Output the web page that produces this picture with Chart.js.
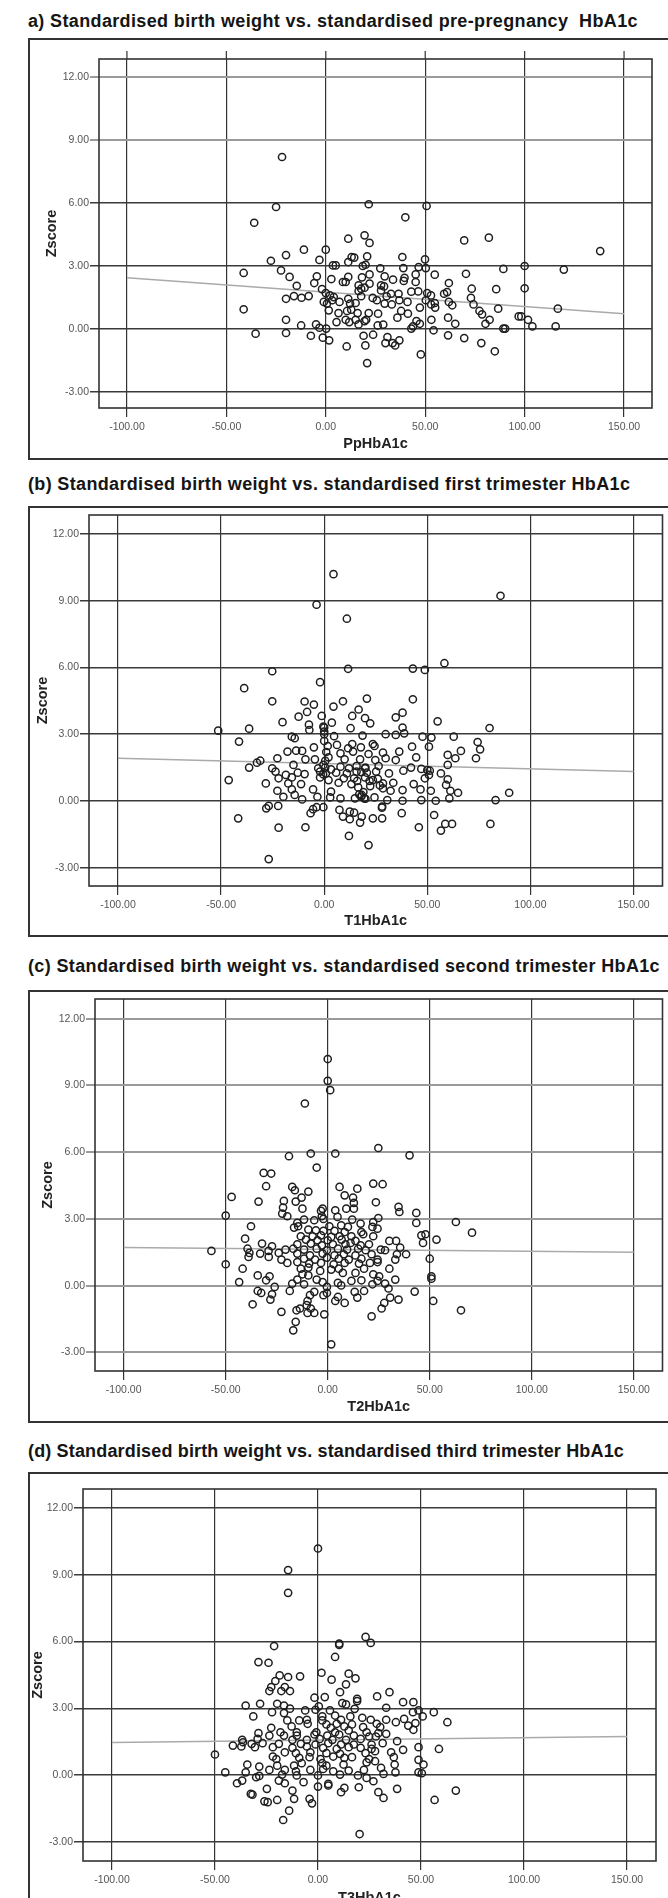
<!DOCTYPE html>
<html>
<head>
<meta charset="utf-8">
<script src="https://cdn.jsdelivr.net/npm/chart.js@4.4.1/dist/chart.umd.min.js"></script>
<style>
  html, body { margin: 0; padding: 0; background: #fff; }
  body { position: relative; width: 668px; height: 1898px; overflow: hidden; }
  .title { position: absolute; left: 28px; font: bold 18px "Liberation Sans", Arial, sans-serif; line-height: 18px; white-space: pre; color: #151515; }
  .box { position: absolute; left: 28px; width: 720px; border: 2px solid #333; box-sizing: border-box; }
  canvas { position: absolute; left: 0; }
</style>
</head>
<body>
<script>
// axis ticks shared by the four panels
const xTicks = [-100, -50, 0, 50, 100, 150];
const yTicks = [-3, 0, 3, 6, 9, 12];

const titles = [
  "a) Standardised birth weight vs. standardised pre-pregnancy  HbA1c",
  "(b) Standardised birth weight vs. standardised first trimester HbA1c",
  "(c) Standardised birth weight vs. standardised second trimester HbA1c",
  "(d) Standardised birth weight vs. standardised third trimester HbA1c"
];
const xLabels = ["PpHbA1c", "T1HbA1c", "T2HbA1c", "T3HbA1c"];
const yLabel = "Zscore";

// [HbA1c, Zscore] pairs
const ppHbA1c = [[-22,8.19],[-25,5.81],[21.6,5.94],[50.7,5.86],[-36,5.06],[40,5.32],[11.3,4.30],[19.5,4.46],[22,4.10],[69.6,4.22],[82,4.35],[138,3.71],[-11,3.78],[0,3.78],[-20,3.52],[-3.2,3.29],[-27.6,3.25],[3.6,3.03],[5,3.03],[13,3.43],[14.3,3.40],[20.8,3.46],[38.5,3.43],[49.9,3.32],[11.3,3.19],[18.6,3.0],[20,3.06],[27.4,2.89],[39,2.90],[46.7,2.95],[50.3,2.90],[89.3,2.86],[100,3.0],[119.7,2.83],[-41.3,2.67],[-22.5,2.79],[-18.2,2.48],[-4.5,2.51],[2.8,2.38],[11.3,2.48],[18.2,2.46],[22,2.60],[29.6,2.51],[33.8,2.35],[39.6,2.44],[45.2,2.60],[54.8,2.59],[70.5,2.63],[-5.8,2.19],[-14.6,2.06],[8.6,2.24],[10,2.24],[16.5,2.08],[22,2.16],[27.8,2.08],[29.3,2.03],[39.2,2.29],[45.2,2.24],[61.9,2.19],[73.4,1.92],[85.7,1.90],[100,1.94],[-8.6,1.57],[-16,1.57],[-20,1.44],[-12.2,1.49],[-1.9,1.90],[0,1.71],[2.1,1.60],[4,1.52],[16.5,1.81],[17.8,1.92],[19.5,1.97],[27.8,1.84],[30.6,1.56],[32.8,1.68],[36.6,1.68],[43,1.78],[46.5,1.79],[51,1.71],[52.9,1.60],[59.5,1.68],[61,1.76],[73,1.48],[11.3,1.44],[17.8,1.56],[23.6,1.48],[-1,1.29],[0.6,1.21],[3.2,1.37],[6.9,1.29],[12.2,1.21],[15,1.24],[25.7,1.37],[29.6,1.21],[33.2,1.17],[37,1.37],[41.1,1.29],[50.3,1.37],[53,1.17],[54.8,1.24],[61.9,1.29],[63.6,1.13],[74.3,1.17],[86.7,0.97],[116.7,0.97],[-41.3,0.94],[1.5,0.89],[6.4,0.76],[10.7,0.86],[12.8,0.92],[16,0.76],[21.6,0.76],[26.3,0.73],[37.9,0.86],[41.3,0.73],[47.3,1.02],[55,1.02],[77.3,0.86],[78.6,0.70],[97,0.60],[98.3,0.60],[101.7,0.44],[-20,0.44],[5.4,0.33],[10,0.44],[11.8,0.33],[15,0.44],[16.5,0.22],[19.5,0.38],[20.3,0.44],[26.1,0.17],[28.9,0.21],[36,0.54],[45.6,0.38],[47.3,0.25],[53.1,0.44],[61.5,0.54],[65.1,0.25],[80.3,0.25],[82.4,0.44],[103.9,0.13],[115.6,0.13],[-12.4,0.17],[-4.9,0.22],[0.2,0.02],[-3.2,0.06],[43,0.02],[43.9,0.13],[89.3,0.02],[90.2,0.02],[-35.3,-0.22],[-20,-0.19],[-7.5,-0.32],[-1.5,-0.41],[1.7,-0.54],[19,-0.32],[23.8,-0.27],[31,-0.38],[30,-0.67],[33.6,-0.67],[37,-0.54],[34.9,-0.78],[54.2,-0.06],[61.5,-0.30],[69.6,-0.43],[78.2,-0.67],[10.5,-0.83],[19.9,-0.78],[47.8,-1.21],[85,-1.06],[20.8,-1.62]];

const t1HbA1c = [[4.5,10.19],[-3.7,8.82],[11,8.19],[85.5,9.22],[58.3,6.19],[43,5.95],[48.8,5.89],[11.6,5.94],[-25.2,5.83],[-2,5.34],[-38.8,5.07],[-25.2,4.48],[-9.5,4.47],[-5,4.33],[20.7,4.60],[43,4.57],[9.1,4.48],[4.5,4.24],[16.7,4.11],[-8.3,4.0],[-12.4,3.79],[13.6,3.82],[19.8,3.72],[34.7,3.76],[38,3.97],[55,3.58],[-20.2,3.54],[-1.2,3.82],[-7.4,3.43],[3.7,3.52],[22.3,3.49],[-0.4,3.34],[-7.2,3.19],[12.8,3.27],[38,3.30],[-36.4,3.25],[-51.4,3.16],[0,3.12],[80.2,3.28],[29.8,3.0],[34.7,2.97],[38.8,3.04],[18.6,2.94],[4.8,2.91],[-15.7,2.89],[-14.3,2.82],[47.7,2.89],[52,2.85],[62.8,2.89],[-41.3,2.67],[74.4,2.65],[75.6,2.32],[66.3,2.25],[42.6,2.44],[50.8,2.44],[23.6,2.56],[24.4,2.47],[13.6,2.56],[11.6,2.37],[17.8,2.41],[6.2,2.52],[-5,2.41],[1.7,2.47],[-10.7,2.25],[-17.8,2.22],[-13.6,2.26],[7.9,2.14],[14,2.22],[21.5,2.11],[28.5,2.17],[36.4,2.22],[44.6,1.96],[59.9,2.07],[63.6,1.92],[73.6,1.92],[-22.7,1.92],[-31,1.81],[-32.6,1.72],[-9.1,1.87],[-4.5,1.87],[2.1,1.96],[9.9,1.87],[17.4,1.87],[24.8,1.84],[29.8,1.92],[34.7,1.84],[59.9,1.62],[-25.2,1.47],[-36.4,1.50],[-14.9,1.62],[-0.4,1.62],[-2.9,1.47],[3.3,1.42],[7.9,1.54],[12,1.47],[15.7,1.57],[19.8,1.47],[26.4,1.57],[42.1,1.50],[47.1,1.44],[50,1.39],[51.2,1.36],[-23.6,1.32],[-18.6,1.17],[-12.8,1.27],[-9.5,1.21],[-2,1.32],[0.8,1.24],[5.8,1.27],[11,1.24],[15.7,1.32],[20.7,1.27],[25.2,1.32],[31.4,1.24],[38.4,1.36],[56.6,1.24],[50.8,1.17],[-22.1,1.02],[-15.7,1.06],[-2,1.06],[2.1,0.94],[9.5,1.02],[14.5,1.02],[19.8,1.06],[23.6,0.94],[48.8,1.02],[59.9,0.97],[-46.3,0.94],[-28.3,0.79],[-17.4,0.79],[-11.2,0.76],[7,0.82],[13.2,0.76],[28.5,0.79],[33.5,0.82],[43.4,0.76],[59.1,0.72],[-15.7,0.52],[-22.7,0.46],[-5.4,0.52],[3.3,0.42],[16.5,0.61],[22.3,0.67],[28.5,0.57],[32.2,0.46],[38,0.49],[46.7,0.52],[51.7,0.46],[61.2,0.46],[64.9,0.37],[89.7,0.37],[-19.8,0.19],[-14.3,0.27],[-10.7,0.07],[-3.3,0.19],[2.9,0.16],[7.9,0.12],[14.9,0.12],[18.2,0.27],[19.4,0.12],[24.4,0.16],[30.6,0.04],[38,0.01],[47.1,0.04],[54.1,0.01],[60.7,0.12],[83.1,0.04],[-28.1,-0.33],[-26.9,-0.22],[-22.3,-0.22],[-3.7,-0.28],[-0.4,-0.28],[-5.4,-0.37],[-6.6,-0.55],[7.4,-0.40],[12.4,-0.48],[14.5,-0.52],[9.1,-0.70],[18.2,-0.70],[23.6,-0.78],[28.1,-0.25],[28.1,-0.78],[37.6,-0.55],[53.3,-0.63],[12.4,-0.82],[17.4,-0.97],[-41.7,-0.78],[-22.1,-1.20],[-9.1,-1.18],[45.9,-1.18],[56.6,-1.33],[58.7,-1.03],[62,-1.03],[80.6,-1.03],[12,-1.57],[21.5,-1.98],[-26.9,-2.61],[0,3.3],[0,3.0],[0,2.7],[0.5,1.5],[0.5,1.8],[-0.5,1.2],[1,2.2],[18,0.2],[19,0.4],[20,0.1],[17,0.3],[16,0.9],[18,1.3],[20,1.5],[22,0.9],[26,1.0],[27,0.7],[28,-0.3]];

const t2HbA1c = [[0,10.19],[0,9.21],[1.2,8.79],[-11.2,8.19],[24.8,6.19],[-19,5.82],[-8.3,5.94],[3.7,5.94],[40.1,5.86],[-5.4,5.31],[-31.4,5.07],[-27.7,5.04],[-30.2,4.47],[22.3,4.59],[26.9,4.56],[-17.4,4.44],[-16.1,4.29],[-9.5,4.23],[5.8,4.44],[14.5,4.36],[-47.1,3.99],[-12.8,3.96],[8.3,4.06],[12.4,3.96],[-33.9,3.78],[-21.5,3.81],[-15.7,3.78],[23.6,3.75],[12.8,3.72],[-12.4,3.46],[-21.9,3.51],[-3.3,3.36],[-2.5,3.46],[3.7,3.39],[9.1,3.46],[12.8,3.46],[34.7,3.54],[35.1,3.31],[43.4,3.27],[-50,3.15],[-22.3,3.24],[-19.8,3.12],[-11.6,2.97],[-6.6,2.94],[-2.9,3.12],[-2.1,3.0],[4.8,3.09],[12,2.97],[24.8,3.04],[22.3,2.86],[62.8,2.86],[43.4,2.82],[-14.9,2.82],[16.1,2.79],[-37.6,2.67],[-16.5,2.61],[-14.5,2.67],[0.8,2.67],[6.6,2.71],[9.9,2.64],[24.4,2.56],[21.9,2.64],[-9.5,2.52],[-5.8,2.49],[-2.1,2.46],[3.3,2.46],[8.3,2.41],[16.5,2.41],[70.7,2.38],[47.9,2.31],[45.9,2.26],[-13.2,2.22],[-7.4,2.22],[-3.3,2.26],[1.7,2.19],[5.8,2.22],[11.6,2.22],[17.4,2.31],[22.3,2.22],[-40.5,2.11],[-10.7,2.07],[-5,2.04],[0,2.04],[6.8,2.07],[13.6,2.01],[30.2,2.01],[33.5,2.01],[53.3,2.07],[46.7,1.92],[-32.2,1.89],[-14.9,1.86],[-8.3,1.89],[-2.9,1.81],[2.5,1.86],[8.7,1.86],[11.2,1.92],[16.1,1.81],[20.2,1.86],[-27.3,1.77],[-39.3,1.66],[35.5,1.71],[-20.7,1.62],[-16.9,1.66],[-11.6,1.62],[-5.4,1.66],[-0.4,1.59],[5,1.66],[9.5,1.62],[14.9,1.66],[18.6,1.59],[26,1.62],[28.1,1.59],[-57,1.56],[-38.4,1.47],[-33.1,1.44],[-29,1.56],[-24,1.47],[-14.9,1.44],[-8.7,1.36],[-2.5,1.44],[3.3,1.36],[7.9,1.41],[13.6,1.36],[21.5,1.41],[33.9,1.41],[38.4,1.41],[-38.8,1.29],[-28.9,1.29],[-22.7,1.17],[-11.6,1.21],[-6.2,1.17],[-0.4,1.26],[5.4,1.21],[10.3,1.17],[16.5,1.21],[24.4,1.17],[33.1,1.17],[50,1.21],[-19.8,1.02],[-14.9,1.06],[-9.1,0.99],[-3.3,1.02],[2.9,0.96],[8.3,1.02],[15.3,0.99],[20.7,1.02],[24.4,1.06],[-50,0.96],[-13.2,0.76],[-9.5,0.81],[1.7,0.72],[5.4,0.76],[17.8,0.76],[30.2,0.76],[-41.7,0.76],[-3.7,0.66],[7.4,0.57],[13.6,0.57],[-34.3,0.46],[-28.5,0.42],[-12.4,0.51],[-9.5,0.46],[22.3,0.51],[25.2,0.42],[50.8,0.42],[50.8,0.31],[-30.2,0.24],[-14.9,0.27],[-5.4,0.27],[-2.5,0.16],[5,0.12],[11.6,0.21],[16.5,0.24],[24.4,0.21],[33.1,0.27],[-43.4,0.16],[-17.4,0.09],[-11.6,0.06],[6.6,0.01],[21.9,0.06],[28.1,0.09],[-26,-0.06],[-0.4,-0.06],[29.8,-0.13],[-34.3,-0.24],[-32.6,-0.33],[-18.6,-0.24],[-6.6,-0.28],[-0.4,-0.33],[13.2,-0.28],[17.8,-0.24],[42.6,-0.27],[-27.3,-0.39],[-8.7,-0.43],[-2.1,-0.43],[5,-0.51],[14.5,-0.54],[30.6,-0.54],[34.7,-0.63],[-28.1,-0.63],[51.7,-0.69],[3.7,-0.69],[8.3,-0.78],[27.7,-0.78],[-36.8,-0.84],[-9.9,-0.69],[-10.3,-0.88],[26.4,-1.03],[65.3,-1.11],[-15.3,-1.11],[-13.6,-1.03],[-8.3,-1.03],[-6.6,-1.23],[-9.9,-1.23],[-22.7,-1.18],[-1.7,-1.29],[21.5,-1.38],[-15.7,-1.63],[-16.9,-2.01],[1.7,-2.64]];

const t3HbA1c = [[0,10.18],[-14.5,9.21],[-14.5,8.19],[23.1,6.21],[25.6,5.94],[10.3,5.91],[10.3,5.85],[-21.3,5.80],[8.3,5.31],[-28.9,5.08],[-24,5.05],[1.7,4.60],[14.9,4.56],[-18.6,4.48],[-14.5,4.41],[-8.7,4.44],[6.6,4.29],[18.2,4.35],[-20.7,4.23],[13.6,4.08],[-22.7,3.96],[-16.1,3.96],[-23.6,3.78],[-17.8,3.78],[-13.6,3.78],[10.7,3.73],[34.7,3.73],[28.7,3.54],[3.3,3.51],[-1.7,3.48],[19,3.43],[19,3.33],[41.3,3.28],[46.3,3.28],[-35.1,3.13],[-28.1,3.21],[-19.8,3.21],[-16.5,3.13],[11.8,3.24],[13.6,3.18],[0.4,3.09],[-13.6,2.99],[-1.2,2.94],[17.8,2.98],[33.1,3.03],[-6.2,2.91],[5.8,2.91],[48.8,2.91],[-22.3,2.83],[-16.5,2.79],[46.1,2.83],[56.2,2.83],[-31.4,2.64],[2.1,2.64],[8.3,2.68],[15.7,2.64],[50.8,2.64],[21.5,2.58],[-5.4,2.49],[2.1,2.46],[11.2,2.49],[25.6,2.49],[33.1,2.49],[41.8,2.53],[-14.9,2.46],[-9.1,2.46],[62.8,2.38],[37.8,2.38],[47.3,2.34],[-5,2.31],[4.1,2.28],[9.1,2.31],[16.5,2.28],[28.5,2.31],[43.8,2.23],[-12.8,2.19],[-22.7,2.13],[6.2,2.13],[12.8,2.19],[21.9,2.16],[30.2,2.16],[46.3,2.04],[-18.2,1.93],[-28.9,1.89],[-10.3,1.93],[-0.8,1.93],[8.3,1.93],[14.9,2.01],[23.6,1.93],[29.3,1.89],[33.1,1.86],[-23.6,1.78],[-16.5,1.78],[-10.3,1.78],[-1.7,1.83],[4.5,1.78],[10.3,1.83],[17.4,1.78],[24.8,1.74],[28.1,1.74],[-29.3,1.63],[-36.8,1.59],[-12.4,1.59],[-5.4,1.59],[0.8,1.63],[7,1.59],[13.6,1.59],[20.7,1.63],[38.4,1.53],[-36.4,1.48],[-32.2,1.41],[-26.9,1.44],[-19,1.41],[-8.3,1.41],[-1.2,1.38],[5,1.44],[11.2,1.38],[17.4,1.38],[26,1.38],[31.4,1.44],[-41.3,1.33],[-37.2,1.29],[-30.6,1.26],[-21.9,1.26],[-12.4,1.23],[-5.4,1.29],[2.5,1.23],[9.1,1.18],[14.9,1.26],[20.7,1.23],[26,1.18],[41.3,1.14],[48.8,1.26],[58.7,1.18],[-16.1,1.03],[-10.7,0.99],[-3.7,1.03],[4.1,0.99],[10.7,0.96],[23.1,0.99],[27.7,1.08],[35.5,1.03],[-50,0.93],[-21.9,0.84],[-20.2,0.73],[-9.1,0.78],[-4.1,0.81],[1.2,0.73],[7.4,0.84],[12.8,0.78],[16.5,0.81],[24.8,0.73],[36.8,0.81],[48.8,0.69],[-7.9,0.54],[2.1,0.54],[23.6,0.58],[27.7,0.63],[51.2,0.48],[-34.3,0.48],[-28.5,0.39],[-19.8,0.43],[-11.6,0.43],[4.1,0.43],[12.4,0.48],[37.2,0.48],[30.6,0.33],[-23.6,0.24],[-16.1,0.24],[-10.7,0.18],[-3.7,0.24],[2.5,0.28],[7.4,0.18],[14.9,0.21],[22.3,0.24],[-45,0.13],[-35.1,0.13],[48.8,0.13],[50.4,0.09],[31.8,0.06],[37.6,0.13],[-28.5,-0.03],[-17.4,0.03],[-10.3,-0.01],[0,-0.01],[10.7,0.03],[19.4,-0.01],[23.6,-0.12],[-30,-0.09],[-36.8,-0.24],[-39.3,-0.36],[-19,-0.24],[-7,-0.31],[5,-0.39],[26.9,-0.27],[-16.1,-0.36],[0,-0.51],[5,-0.46],[19.8,-0.54],[12.8,-0.57],[-24.8,-0.61],[38.4,-0.61],[66.9,-0.69],[-12.4,-0.69],[11.2,-0.76],[29.3,-0.76],[-32.6,-0.84],[-31.8,-0.87],[-11.6,-1.06],[31.8,-1.02],[56.6,-1.11],[-19.8,-1.11],[-4.1,-1.06],[-2.9,-1.26],[-26,-1.17],[-24.4,-1.21],[-14,-1.59],[-16.9,-2.01],[20.2,-2.64]];

// fitted line: Zscore at HbA1c = -100 and at HbA1c = 150
const fitA = [2.44, 0.73];
const fitB = [1.92, 1.32];
const fitC = [1.71, 1.50];
const fitD = [1.47, 1.74];

const seriesList = [ppHbA1c, t1HbA1c, t2HbA1c, t3HbA1c];
const fitList = [fitA, fitB, fitC, fitD];

// page geometry of each panel (px)
const panels = [
  { titleBase: 27, titleW: 610, boxTop: 38, boxH: 422, top: 39, h: 420, left: 99, right: 652, fTop: 20, fBottom: 369, yMin: -3.76, yMax: 12.857, zX: 52, topTicks: true, lightRows: [9, 12] },
  { titleBase: 490, titleW: 602, boxTop: 506, boxH: 431, top: 507, h: 429, left: 89, right: 663, fTop: 8, fBottom: 379, yMin: -3.82, yMax: 12.85, zX: 43, topTicks: false, lightRows: [] },
  { titleBase: 972, titleW: 632, boxTop: 990, boxH: 433, top: 991, h: 431, left: 95, right: 666, fTop: 8, fBottom: 380, yMin: -3.84, yMax: 12.89, zX: 48, topTicks: false, lightRows: yTicks },
  { titleBase: 1457, titleW: 596, boxTop: 1472, boxH: 520, top: 1473, h: 440, left: 83, right: 656, fTop: 16, fBottom: 388, yMin: -3.85, yMax: 12.85, zX: 38, topTicks: false, lightRows: [] }
];

const FONT = "'Liberation Sans', Arial, sans-serif";

// plot frame around the chart area (SPSS style)
const framePlugin = {
  id: "frame",
  afterDraw(chart, args, opts) {
    const { ctx, chartArea: a } = chart;
    ctx.save();
    ctx.strokeStyle = "#333";
    ctx.lineWidth = 1.6;
    ctx.strokeRect(a.left, a.top, a.right - a.left, a.bottom - a.top);
    if (opts.topTicks) {
      ctx.lineWidth = 1.2;
      for (const v of xTicks) {
        const x = chart.scales.x.getPixelForValue(v);
        ctx.beginPath();
        ctx.moveTo(x, a.top - 8);
        ctx.lineTo(x, a.top);
        ctx.stroke();
      }
    }
    ctx.restore();
  }
};

function fitTitle(el, target) {
  const w = el.getBoundingClientRect().width;
  const n = el.textContent.length;
  el.style.letterSpacing = ((target - w) / n).toFixed(2) + "px";
}

panels.forEach((P, i) => {
  const t = document.createElement("div");
  t.className = "title";
  t.textContent = titles[i];
  t.style.top = (P.titleBase - 15.2) + "px";
  document.body.appendChild(t);
  fitTitle(t, P.titleW);

  const box = document.createElement("div");
  box.className = "box";
  box.style.top = P.boxTop + "px";
  box.style.height = P.boxH + "px";
  document.body.appendChild(box);

  const cv = document.createElement("canvas");
  cv.width = 668;
  cv.height = P.h;
  cv.style.top = P.top + "px";
  document.body.appendChild(cv);

  const fit = fitList[i];
  new Chart(cv, {
    type: "scatter",
    data: {
      datasets: [
        {
          data: seriesList[i].map(p => ({ x: p[0], y: p[1] })),
          pointStyle: "circle",
          pointRadius: 3.6,
          pointBorderWidth: 1.5,
          pointBorderColor: "#1e1e1e",
          pointBackgroundColor: "rgba(0,0,0,0)",
          order: 1
        },
        {
          data: [{ x: xTicks[0], y: fit[0] }, { x: xTicks[xTicks.length - 1], y: fit[1] }],
          showLine: true,
          borderColor: "#aaa",
          borderWidth: 1.5,
          pointRadius: 0,
          order: 2
        }
      ]
    },
    options: {
      responsive: false,
      animation: false,
      events: [],
      layout: { padding: { left: 0, right: 668 - P.right, top: P.fTop, bottom: 0 } },
      plugins: {
        legend: { display: false },
        tooltip: { enabled: false },
        frame: { topTicks: P.topTicks }
      },
      scales: {
        x: {
          type: "linear",
          min: -114.05,
          max: 164.05,
          afterBuildTicks: s => { s.ticks = xTicks.map(v => ({ value: v })); },
          afterFit: s => { s.height = P.h - P.fBottom; },
          border: { display: false },
          grid: { color: "#333", lineWidth: 1.2, tickLength: 9 },
          ticks: {
            padding: 4, color: "#555", maxRotation: 0, autoSkip: false,
            font: { family: FONT, size: 10.5 },
            callback: v => Number(v).toFixed(2)
          },
          title: {
            display: true, text: xLabels[i], color: "#222",
            font: { family: FONT, size: 14.5, weight: "bold" },
            padding: { top: 0, bottom: 6.3 }
          }
        },
        y: {
          type: "linear",
          min: P.yMin,
          max: P.yMax,
          afterBuildTicks: s => { s.ticks = yTicks.map(v => ({ value: v })); },
          afterFit: s => { s.width = P.left; },
          border: { display: false },
          grid: {
            color: c => P.lightRows.includes(c.tick && c.tick.value) ? "#9a9a9a" : "#3a3a3a",
            lineWidth: c => P.lightRows.includes(c.tick && c.tick.value) ? 2 : 1.5,
            tickLength: 9
          },
          ticks: {
            padding: 1, color: "#555", autoSkip: false,
            font: { family: FONT, size: 10.5 },
            callback: v => Number(v).toFixed(2)
          },
          title: {
            display: true, text: yLabel, color: "#222",
            font: { family: FONT, size: 14.5, weight: "bold" },
            padding: { top: P.zX - 8.7, bottom: 0 }
          }
        }
      }
    },
    plugins: [framePlugin]
  });
});
</script>
</body>
</html>
